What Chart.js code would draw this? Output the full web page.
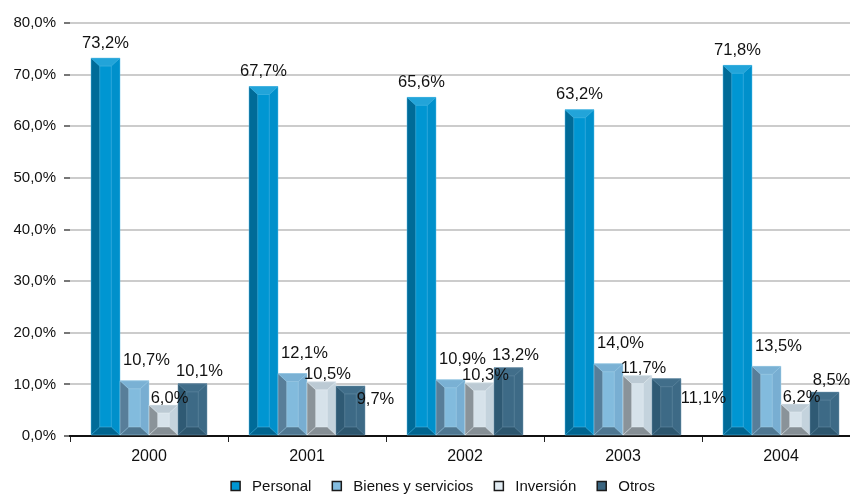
<!DOCTYPE html>
<html>
<head>
<meta charset="utf-8">
<script src="https://cdn.jsdelivr.net/npm/chart.js@4/dist/chart.umd.min.js"></script>
<style>
  html, body { margin: 0; padding: 0; background: #fff; overflow: hidden; }
  canvas { display: block; }
</style>
</head>
<body>
<canvas id="gasto" width="886" height="497"></canvas>
<script>
var years = ['2000', '2001', '2002', '2003', '2004'];
var personal = [73.2, 67.7, 65.6, 63.2, 71.8];
var bienes = [10.7, 12.1, 10.9, 14.0, 13.5];
var inversion = [6.0, 10.5, 10.3, 11.7, 6.2];
var otros = [10.1, 9.7, 13.2, 11.1, 8.5];

var FONT = '"Liberation Sans", Arial, sans-serif';

// face, left, right, top, bottom shades for the bevelled bars
var shades = [
    { face: '#0096d2', left: '#006b98', right: '#0090cb', top: '#22a4d9', bottom: '#00648f', line: '#5cc0e8' },
    { face: '#82bbdd', left: '#587e99', right: '#78aed2', top: '#7ab1d4', bottom: '#4f7791', line: '#a9d2ea' },
    { face: '#d6e2ea', left: '#8a9399', right: '#c4d3dd', top: '#bccad4', bottom: '#868f95', line: '#e8f0f5' },
    { face: '#3d6a86', left: '#2f5a74', right: '#3d6a86', top: '#416e8a', bottom: '#2d566e', line: '#6f96ad' }
];
var legendFill = ['#0096d2', '#84bde0', '#e2ecf3', '#3a6580'];

// where each series puts its value label relative to the bar top
var labelOffset = [[0, -15], [12, -20], [6, -7], [7, -12]];
// a couple of labels pushed aside so they don't collide
var labelNudge = { '3:1': [18, 26], '3:3': [30, 32] };

function pct(v) {
    return v.toFixed(1).replace('.', ',') + '%';
}

function bevel(ctx, x0, x1, y0, y1, c) {
    var w = x1 - x0, h = y1 - y0;
    var dx = w * 0.3;
    var dy = Math.min(8, h / 2);
    function poly(pts, col) {
        ctx.beginPath();
        ctx.moveTo(pts[0][0], pts[0][1]);
        for (var i = 1; i < pts.length; i++) ctx.lineTo(pts[i][0], pts[i][1]);
        ctx.closePath();
        ctx.fillStyle = col;
        ctx.fill();
    }
    poly([[x0, y0], [x1, y0], [x1, y1], [x0, y1]], c.face);
    poly([[x0, y0], [x0 + dx, y0 + dy], [x0 + dx, y1 - dy], [x0, y1]], c.left);
    poly([[x1, y0], [x1 - dx, y0 + dy], [x1 - dx, y1 - dy], [x1, y1]], c.right);
    poly([[x0, y0], [x1, y0], [x1 - dx, y0 + dy], [x0 + dx, y0 + dy]], c.top);
    poly([[x0, y1], [x1, y1], [x1 - dx, y1 - dy], [x0 + dx, y1 - dy]], c.bottom);
    // thin highlight round the inner face
    ctx.strokeStyle = c.line;
    ctx.lineWidth = 0.8;
    ctx.globalAlpha = 0.6;
    ctx.beginPath();
    ctx.moveTo(x0, y0); ctx.lineTo(x0 + dx, y0 + dy);
    ctx.moveTo(x1, y0); ctx.lineTo(x1 - dx, y0 + dy);
    ctx.moveTo(x0, y1); ctx.lineTo(x0 + dx, y1 - dy);
    ctx.moveTo(x1, y1); ctx.lineTo(x1 - dx, y1 - dy);
    ctx.rect(x0 + dx, y0 + dy, w - 2 * dx, h - 2 * dy);
    ctx.rect(x0, y0, w, h);
    ctx.stroke();
    ctx.globalAlpha = 1;
}

var bevelBars = {
    id: 'bevelBars',
    afterDatasetsDraw: function (chart) {
        var ctx = chart.ctx;
        ctx.save();
        chart.data.datasets.forEach(function (ds, i) {
            var meta = chart.getDatasetMeta(i);
            meta.data.forEach(function (bar) {
                var p = bar.getProps(['x', 'y', 'base', 'width'], true);
                bevel(ctx, p.x - p.width / 2, p.x + p.width / 2, p.y, p.base, shades[i]);
            });
        });
        ctx.font = '16.5px ' + FONT;
        ctx.fillStyle = '#111';
        ctx.textAlign = 'center';
        ctx.textBaseline = 'middle';
        chart.data.datasets.forEach(function (ds, i) {
            var meta = chart.getDatasetMeta(i);
            meta.data.forEach(function (bar, j) {
                var p = bar.getProps(['x', 'y'], true);
                var off = labelOffset[i];
                var nudge = labelNudge[i + ':' + j] || [0, 0];
                ctx.fillText(pct(ds.data[j]), p.x + off[0] + nudge[0], p.y + off[1] + nudge[1]);
            });
        });
        ctx.restore();
    }
};

// legend row under the axis: small framed squares + names
var legendRow = {
    id: 'legendRow',
    afterDraw: function (chart) {
        var ctx = chart.ctx;
        var box = 9, gap = 12, spacing = 21, cy = 487;
        ctx.save();
        ctx.font = '15px ' + FONT;
        ctx.textBaseline = 'middle';
        ctx.textAlign = 'left';
        var names = chart.data.datasets.map(function (d) { return d.label; });
        var total = 0;
        names.forEach(function (n, i) {
            total += box + gap + ctx.measureText(n).width + (i < names.length - 1 ? spacing : 0);
        });
        var x = 443 - total / 2;
        names.forEach(function (n, i) {
            ctx.fillStyle = legendFill[i];
            ctx.fillRect(x, cy - box / 2 - 1, box, box);
            ctx.strokeStyle = '#1a1a1a';
            ctx.lineWidth = 1.5;
            ctx.strokeRect(x, cy - box / 2 - 1, box, box);
            ctx.fillStyle = '#111';
            ctx.fillText(n, x + box + gap, cy);
            x += box + gap + ctx.measureText(n).width + spacing;
        });
        ctx.restore();
    }
};

var ctx = document.getElementById('gasto').getContext('2d');
var chart = new Chart(ctx, {
    type: 'bar',
    data: {
        labels: years,
        datasets: [
            { label: 'Personal', data: personal, backgroundColor: legendFill[0] },
            { label: 'Bienes y servicios', data: bienes, backgroundColor: legendFill[1] },
            { label: 'Inversión', data: inversion, backgroundColor: legendFill[2] },
            { label: 'Otros', data: otros, backgroundColor: legendFill[3] }
        ]
    },
    options: {
        responsive: false,
        animation: false,
        categoryPercentage: 0.734,
        barPercentage: 1.0,
        layout: { padding: { left: 0, right: 26, top: 23, bottom: 33 } },
        plugins: {
            tooltip: { enabled: false },
            legend: { display: false }
        },
        scales: {
            x: {
                grid: {
                    display: true,
                    offset: true,
                    drawOnChartArea: false,
                    tickLength: 6,
                    color: '#222',
                    lineWidth: 1
                },
                border: { display: true, color: '#111', width: 2 },
                ticks: {
                    color: '#111',
                    padding: 5,
                    font: { family: FONT, size: 16 }
                },
                afterFit: function (scale) { scale.height = 28; }
            },
            y: {
                min: 0,
                max: 80,
                grid: {
                    color: function (c) { return c.tick.value === 0 ? 'rgba(0,0,0,0)' : '#cccccc'; },
                    lineWidth: 2,
                    tickLength: 6,
                    tickColor: '#777'
                },
                border: { display: false },
                ticks: {
                    stepSize: 10,
                    color: '#111',
                    padding: 8,
                    font: { family: FONT, size: 15 },
                    callback: function (v) { return pct(v); }
                },
                afterFit: function (scale) { scale.width = 70; }
            }
        }
    },
    plugins: [bevelBars, legendRow]
});
</script>
</body>
</html>
